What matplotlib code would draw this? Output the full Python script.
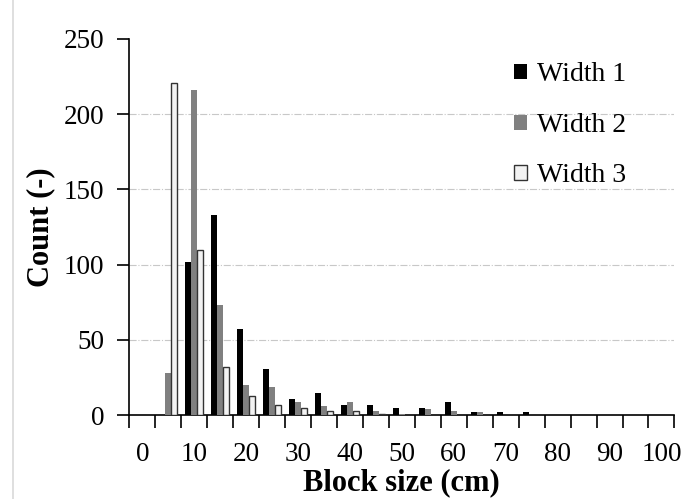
import numpy as np
import matplotlib
matplotlib.use('Agg')
import matplotlib.pyplot as plt
from matplotlib.lines import Line2D

# bin labels (cm) and counts per width
sizes = [0, 5, 10, 15, 20, 25, 30, 35, 40, 45, 50, 55, 60, 65, 70, 75, 80, 85, 90, 95, 100]
width1 = [0, 0, 102, 133, 57, 31, 11, 15, 7, 7, 5, 5, 9, 2, 2, 2, 0, 0, 0, 0, 0]
width2 = [0, 28, 216, 73, 20, 19, 9, 6, 9, 3, 1, 4, 3, 2, 0, 0, 0, 0, 0, 0, 0]
width3 = [0, 221, 110, 32, 13, 7, 5, 3, 3, 1, 0, 0, 0, 0, 0, 0, 0, 0, 0, 0, 0]

plt.rcParams['font.family'] = ['Liberation Serif', 'DejaVu Serif']

fig = plt.figure(figsize=(6.84, 4.99), dpi=100)
ax = fig.add_axes([0.189, 0.168, 0.797, 0.754])

x = np.arange(len(sizes))
bw = 0.23
ax.bar(x - bw, width1, bw, color='black', label='Width 1', zorder=3)
ax.bar(x, width2, bw, color='#808080', label='Width 2', zorder=3)
ax.bar(x + bw, width3, bw, color='#f2f2f2', edgecolor='#333333',
       linewidth=1.0, label='Width 3', zorder=3)

# dash-dot gridlines
for yv in [50, 100, 150, 200]:
    ax.axhline(yv, color='#c8c8c8', linestyle='-.', linewidth=0.8, zorder=1)

ax.set_xlim(-0.5, len(sizes) - 0.5)
ax.set_ylim(0, 250)
ax.set_yticks([0, 50, 100, 150, 200, 250])

# labels at every other category, tick marks between categories
ax.set_xticks(x)
ax.set_xticklabels([str(s) if i % 2 == 0 else '' for i, s in enumerate(sizes)])
ax.tick_params(axis='x', which='major', length=0, pad=19, labelsize=19.5)
ax.set_xticks(np.arange(len(sizes) + 1) - 0.5, minor=True)
ax.tick_params(axis='x', which='minor', length=9, width=1.2, direction='out')
ax.tick_params(axis='y', length=9, width=1.2, direction='out', pad=9, labelsize=19.5)

ax.spines['top'].set_visible(False)
ax.spines['right'].set_visible(False)
ax.spines['left'].set_linewidth(1.2)
ax.spines['bottom'].set_linewidth(1.2)

ax.set_xlabel('Block size (cm)', fontsize=22, fontweight='bold', labelpad=1)
ax.set_ylabel('Count (-)', fontsize=22, fontweight='bold', labelpad=6)

leg = fig.legend(loc='upper left', bbox_to_anchor=(0.752, 0.875), frameon=False,
                 fontsize=20, handlelength=0.45, handleheight=0.45,
                 handletextpad=0.35, labelspacing=0.92,
                 borderpad=0, borderaxespad=0)

# faint chart-area border on the left
fig.add_artist(Line2D([0.019, 0.019], [0, 1], color='#d9d9d9', linewidth=1.2))

plt.savefig('out.png', dpi=100)
